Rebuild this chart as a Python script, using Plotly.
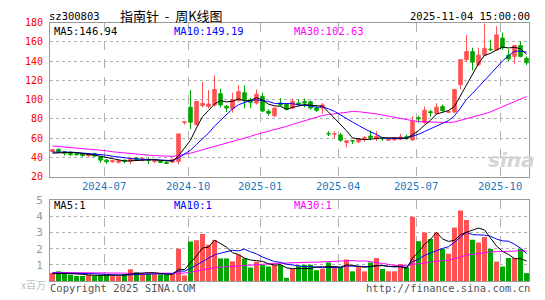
import plotly.graph_objects as go
import pandas as pd

# ---------------- data (weekly bars) ----------------
opens = [46.3, 48.6, 46.0, 45.0, 44.0, 44.0, 42.0, 44.0, 40.6, 37.3,
         35.6, 35.0, 37.3, 36.0, 39.6, 37.3, 37.6, 36.0, 36.3, 35.0,
         35.3, 36.0, 76.5, 92.3, 74.0, 94.0, 93.0, 94.6, 106.3, 93.3,
         90.6, 99.0, 107.3, 99.0, 96.6, 103.3, 88.0, 83.3, 96.6, 95.3,
         91.3, 96.6, 98.0, 98.0, 91.3, 91.3, 65.0, 64.3, 63.3, 55.6,
         57.6, 56.3, 59.5, 62.3, 60.0, 60.3, 58.0, 58.6, 59.0, 61.6,
         58.3, 81.3, 76.3, 87.6, 85.6, 93.0, 87.0, 87.3, 115.6, 141.6,
         150.0, 136.6, 146.3, 152.5, 151.6, 164.0, 146.3, 145.0, 156.3, 143.0]
highs = [49.0, 49.3, 46.5, 46.6, 45.0, 44.5, 44.0, 44.5, 41.0, 38.5,
         37.5, 37.3, 37.6, 40.6, 40.3, 40.6, 40.0, 37.5, 37.0, 36.0,
         39.0, 64.6, 77.3, 110.0, 98.5, 118.3, 110.0, 125.3, 111.3, 94.5,
         107.3, 115.0, 115.0, 102.0, 110.6, 107.3, 90.0, 92.0, 101.6, 96.0,
         101.3, 100.6, 101.3, 99.0, 93.3, 96.6, 67.3, 67.3, 65.6, 58.0,
         58.0, 60.3, 62.3, 68.0, 67.3, 61.3, 60.0, 61.3, 64.6, 64.0,
         83.0, 83.3, 93.0, 89.6, 96.3, 95.0, 89.0, 110.8, 142.0, 167.3,
         154.0, 154.0, 179.0, 162.3, 176.3, 169.6, 152.3, 156.5, 160.6, 145.0]
lows = [45.6, 45.0, 42.0, 41.6, 42.0, 40.6, 40.6, 41.0, 34.6, 33.6,
        34.6, 34.0, 34.0, 33.3, 36.6, 36.0, 33.3, 34.0, 34.3, 33.3,
        34.0, 33.0, 74.0, 69.6, 73.5, 92.0, 91.0, 93.0, 92.0, 87.3,
        86.6, 98.0, 91.3, 91.3, 95.0, 87.0, 83.3, 82.0, 93.0, 89.0,
        90.5, 94.0, 92.3, 89.6, 87.3, 85.6, 62.3, 60.0, 56.3, 50.6,
        54.0, 55.0, 56.6, 58.0, 57.3, 57.3, 57.0, 57.3, 58.0, 58.3,
        57.3, 76.3, 75.0, 82.3, 85.0, 88.0, 86.0, 86.3, 110.6, 139.0,
        130.6, 135.0, 146.0, 150.6, 151.0, 152.0, 140.0, 137.3, 144.0, 136.0]
closes = [48.3, 46.3, 44.6, 43.0, 43.0, 42.0, 43.3, 41.6, 37.3, 35.6,
          36.6, 36.6, 36.0, 38.3, 37.6, 38.6, 37.3, 37.0, 35.0, 34.0,
          38.0, 64.5, 77.0, 76.6, 98.3, 96.3, 95.6, 110.6, 94.6, 91.3,
          100.0, 108.3, 99.6, 97.3, 105.6, 88.3, 86.0, 91.3, 94.6, 90.0,
          98.3, 95.3, 96.6, 91.3, 89.0, 94.6, 64.6, 64.6, 58.0, 57.3,
          57.3, 59.6, 60.5, 60.6, 62.3, 59.6, 59.3, 60.6, 61.3, 59.6,
          77.5, 80.3, 89.0, 86.6, 92.3, 88.6, 87.6, 110.6, 141.6, 150.0,
          139.0, 146.3, 153.3, 152.0, 167.3, 154.0, 142.3, 156.3, 145.0, 138.3]
volumes = [0.50, 0.60, 0.47, 0.39, 0.31, 0.31, 0.39, 0.31, 0.39, 0.39,
           0.31, 0.30, 0.45, 0.73, 0.55, 0.43, 0.43, 0.43, 0.40, 0.38,
           0.43, 2.00, 0.35, 2.45, 2.53, 2.92, 2.25, 2.53, 1.40, 1.40,
           1.22, 1.65, 1.40, 0.84, 1.20, 1.00, 0.90, 1.00, 1.00, 0.20,
           0.75, 0.94, 1.00, 1.00, 0.67, 0.75, 1.15, 0.90, 0.86, 1.33,
           0.60, 0.86, 0.60, 1.15, 1.43, 0.75, 0.60, 0.60, 1.06, 0.86,
           3.98, 2.47, 3.00, 2.60, 3.00, 1.98, 1.69, 3.31, 4.37, 3.78,
           2.55, 2.39, 2.73, 1.98, 1.20, 0.90, 1.43, 1.43, 1.98, 0.49]

# moving-average values at the start of the window (need earlier weeks)
ma5_head = [44.6, 45.0, 45.3, 45.3]
ma10_head = [45.6, 45.8, 45.8, 45.6, 45.2, 44.8, 44.3, 43.6, 43.0]
ma30_head = [52.0, 51.5, 51.0, 50.5, 50.0, 49.5, 49.0, 48.5, 48.0, 47.0,
             46.0, 45.3, 44.6, 44.0, 43.5, 43.0, 42.5, 42.0, 41.7, 41.3,
             41.2, 42.2, 43.3, 44.5, 46.3, 48.0, 49.6, 51.6, 53.3]
vma5_head = [0.45, 0.47, 0.47, 0.46]
vma10_head = [0.50, 0.50, 0.50, 0.49, 0.48, 0.47, 0.46, 0.45, 0.43]
vma30_head = [0.53, 0.53, 0.53, 0.52, 0.52, 0.52, 0.51, 0.51, 0.50, 0.50,
              0.50, 0.49, 0.49, 0.48, 0.48, 0.48, 0.47, 0.47, 0.46, 0.46,
              0.45, 0.49, 0.49, 0.55, 0.62, 0.70, 0.76, 0.83, 0.86]

month_pos = [8.6, 22.6, 34.6, 47.6, 60.6, 74.6]
month_labels = ["2024-07", "2024-10", "2025-01", "2025-04", "2025-07", "2025-10"]
price_ticks = [20, 40, 60, 80, 100, 120, 140, 160, 180]
vol_ticks = [1, 2, 3, 4, 5]

title_code = "sz300803"
title_name = "指南针 - 周K线图"
timestamp = "2025-11-04 15:00:00"
ma_labels = ["MA5:146.94", "MA10:149.19", "MA30:102.63"]
vma_labels = ["MA5:1", "MA10:1", "MA30:1"]

# ---------------- styling ----------------
RED = "#ff5252"
GREEN = "#00a600"
MONO = "DejaVu Sans Mono"
CJK = "Noto Sans CJK SC"
W, H = 545, 300
L, R = 50, 16


def moving_avg(values, window, head):
    s = pd.Series(values, dtype=float).rolling(window).mean()
    s.iloc[:len(head)] = head
    return s.tolist()


idx = list(range(len(closes)))
ma5 = moving_avg(closes, 5, ma5_head)
ma10 = moving_avg(closes, 10, ma10_head)
ma30 = moving_avg(closes, 30, ma30_head)
vma5 = moving_avg(volumes, 5, vma5_head)
vma10 = moving_avg(volumes, 10, vma10_head)
vma30 = moving_avg(volumes, 30, vma30_head)
vol_colors = [RED if c >= o else GREEN for o, c in zip(opens, closes)]


def px_x(p):
    return (p - L) / (W - L - R)


def px_y(p):
    return 1 - p / H


fig = go.Figure()
fig.add_trace(go.Candlestick(
    x=idx, open=opens, high=highs, low=lows, close=closes,
    xaxis="x", yaxis="y", whiskerwidth=0, hoverinfo="skip",
    increasing=dict(line=dict(color=RED, width=1), fillcolor=RED),
    decreasing=dict(line=dict(color=GREEN, width=1), fillcolor=GREEN)))
for ys, col in [(ma30, "#ff00ff"), (ma10, "#0000ff"), (ma5, "#000000")]:
    fig.add_trace(go.Scatter(x=idx, y=ys, mode="lines", xaxis="x", yaxis="y",
                             line=dict(color=col, width=1), hoverinfo="skip"))

fig.add_trace(go.Bar(x=idx, y=volumes, xaxis="x2", yaxis="y2",
                     marker=dict(color=vol_colors, line=dict(width=0)), hoverinfo="skip"))
for ys, col in [(vma30, "#ff00ff"), (vma10, "#0000ff"), (vma5, "#000000")]:
    fig.add_trace(go.Scatter(x=idx, y=ys, mode="lines", xaxis="x2", yaxis="y2",
                             line=dict(color=col, width=1), hoverinfo="skip"))

xr = [-0.417, len(idx) - 1 + 0.417]
common_x = dict(range=xr, tickvals=month_pos, showgrid=True, gridcolor="#b0b0b0",
                griddash="dash", gridwidth=1, showline=True, mirror=True,
                linecolor="#999999", linewidth=1, zeroline=False, ticks="")
common_y = dict(showgrid=True, gridcolor="#b0b0b0", griddash="dot", gridwidth=1,
                showline=True, mirror=True, linecolor="#999999", linewidth=1,
                zeroline=False, ticks="", ticklabelstandoff=4)

fig.update_layout(
    width=W, height=H, margin=dict(l=L, r=R, t=0, b=0),
    paper_bgcolor="white", plot_bgcolor="white", showlegend=False,
    bargap=1 / 6, boxgap=1 / 6,
    xaxis=dict(common_x, domain=[0, 1], anchor="y", ticktext=month_labels,
               tickfont=dict(family=MONO, size=10.5, color="#1e78be"),
               rangeslider=dict(visible=False)),
    xaxis2=dict(common_x, domain=[0, 1], anchor="y2", matches="x", showticklabels=False),
    yaxis=dict(common_y, domain=[px_y(177.3), px_y(17.3)], range=[20, 180], anchor="x",
               tickvals=price_ticks, ticktext=[str(v) for v in price_ticks],
               tickfont=dict(family=MONO, size=10, color="#ff0000")),
    yaxis2=dict(common_y, domain=[px_y(285.5), px_y(201.7)], range=[0, 5], anchor="x2",
                tickvals=vol_ticks, ticktext=[str(v) for v in vol_ticks],
                tickfont=dict(family=MONO, size=11, color="#9a9a9a")),
)


def note(text, xp, yp, anchor="left", color="#000000", size=10, family=MONO, **kw):
    fig.add_annotation(text=text, x=px_x(xp), y=px_y(yp), xref="paper", yref="paper",
                       xanchor=anchor, yanchor="middle", showarrow=False, borderpad=0,
                       font=dict(family=family, size=size, color=color, **kw))


note(title_code, 48, 10.5, size=10.5)
note(title_name.replace(" ", "&nbsp;&nbsp;"), 119, 9.5, family=CJK, size=13)
note(timestamp, 531, 10.5, anchor="right", size=10.5)
for txt, xp, col in zip(ma_labels, [53, 173, 293], ["#000000", "#0000ff", "#ff00ff"]):
    note(txt, xp, 25.5, color=col, size=10.5)
for txt, xp, col in zip(vma_labels, [53, 173, 293], ["#000000", "#0000ff", "#ff00ff"]):
    note(txt, xp, 206.5, color=col, size=10.5)
note("x百万", 47, 289, anchor="right", color="#c0c0c0", size=10, family=CJK)
note("Copyright 2025 SINA.COM", 49, 293, color="#555555", size=10.5)
note("http://finance.sina.com.cn", 531, 293, anchor="right", color="#555555", size=10.5)
note("sina", 511, 160, anchor="center", color="#d4d4d4", size=20,
     family="DejaVu Sans", style="italic", weight="bold")

fig.write_html("out.html")
